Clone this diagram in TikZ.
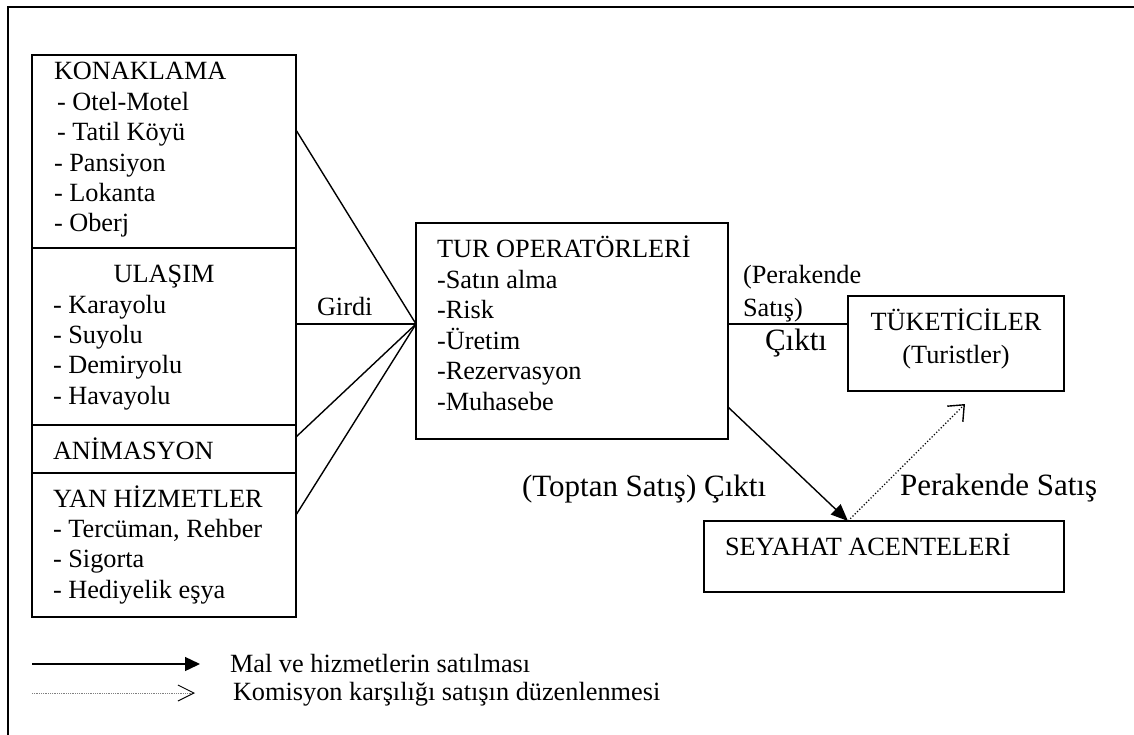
\documentclass[tikz,border=0pt]{standalone}
\usepackage{fontspec}
\setmainfont{Liberation Serif}
\usetikzlibrary{arrows.meta}
% left-aligned block of lines whose baseline is the first line
\newcommand\boxlines[1]{\begin{tabular}[t]{@{}l@{}}#1\end{tabular}}
\begin{document}
\begin{tikzpicture}[x=1pt,y=-1pt,
  box/.style={draw, line width=1.4pt, anchor=north west, inner sep=0pt, outer sep=0pt},
  txt/.style={anchor=base west, inner sep=0pt, outer sep=0pt, font=\fontsize{26.3}{30.4}\selectfont},
  bigtxt/.style={anchor=base west, inner sep=0pt, outer sep=0pt, font=\fontsize{31}{36}\selectfont},
  conn/.style={line width=1.4pt}]
\useasboundingbox (0,0) rectangle (1134,735);

% outer frame
\draw[line width=2pt] (1140,7) -- (8,7) -- (8,740);

% supplier column
\node[box, minimum width=264pt, minimum height=193pt] (konak) at (32,55) {};
\node[box, minimum width=264pt, minimum height=177pt] (ulasim) at (32,248) {};
\node[box, minimum width=264pt, minimum height=48pt] (anim) at (32,425) {};
\node[box, minimum width=264pt, minimum height=144pt] (yan) at (32,473) {};

\node[txt] (konakT) at (54,80) {\boxlines{KONAKLAMA\\ \hspace*{3pt}- Otel-Motel\\ \hspace*{3pt}- Tatil Köyü\\ - Pansiyon\\ - Lokanta\\ - Oberj}};
\node[txt, anchor=base] (ulasimH) at (164,282) {ULAŞIM};
\node[txt] (ulasimT) at (53,313) {\boxlines{- Karayolu\\ - Suyolu\\ - Demiryolu\\ - Havayolu}};
\node[txt] (animT) at (53,459) {ANİMASYON};
\node[txt] (yanT) at (53,507) {\boxlines{YAN HİZMETLER\\ - Tercüman, Rehber\\ - Sigorta\\ - Hediyelik eşya}};

% tour operators
\node[box, minimum width=312pt, minimum height=216pt] (tur) at (416,223) {};
\node[txt] (turT) at (437,258) {\boxlines{TUR OPERATÖRLERİ\\ -Satın alma\\ -Risk\\ -Üretim\\ -Rezervasyon\\ -Muhasebe}};

% consumers
\node[box, minimum width=216pt, minimum height=95pt] (tuk) at (848,296) {};
\node[txt, anchor=base] (tukT) at (956,330) {TÜKETİCİLER};
\node[txt, anchor=base] (tukT2) at (956,363) {(Turistler)};

% travel agencies
\node[box, minimum width=360pt, minimum height=71pt] (sey) at (704,521) {};
\node[txt] (seyT) at (725,555) {SEYAHAT ACENTELERİ};

% inputs
\coordinate (hub) at ([yshift=-101pt]tur.north west);
\draw[conn] ([yshift=-75pt]konak.north east) -- (hub);
\draw[conn] (ulasim.east |- hub) -- (hub);
\draw[conn] ([yshift=-12pt]anim.north east) -- (hub);
\draw[conn] ([yshift=-42pt]yan.north east) -- (hub);
\node[txt] (girdi) at (317,315) {Girdi};

% outputs
\draw[conn] (tur.east |- hub) -- (tuk.west |- hub);
\node[txt] (perak1) at (743,283) {(Perakende};
\node[txt] (perak2) at (743,316) {Satış)};
\node[bigtxt] (cikti1) at (765,350) {Çıktı};

\coordinate (seyIn) at ([xshift=144pt]sey.north west);
\draw[conn, -{Triangle[length=17pt,width=14pt]}] ([yshift=-184pt]tur.north east) -- (seyIn);
\node[bigtxt] (toptan) at (522,496) {(Toptan Satış) Çıktı};

\coordinate (dtip) at (965,404);
\draw[line width=1.2pt, dotted, -{Straight Barb[length=13pt,width=22pt,line width=1.4pt]}] (seyIn) -- (dtip);
\node[bigtxt] (perakSat) at (900,495) {Perakende Satış};

% legend
\coordinate (la) at (32,664);
\coordinate (lb) at (200,664);
\draw[conn, -{Triangle[length=15pt,width=14pt]}] (la) -- (lb);
\node[txt] (legA) at (230,672) {Mal ve hizmetlerin satılması};
\coordinate (lc) at (32,693);
\coordinate (ld) at (195,693);
\draw[line width=0.8pt, densely dotted, gray, -{Straight Barb[length=16pt,width=16pt,line width=1pt,black]}] (lc) -- (ld);
\node[txt] (legB) at (233,700) {Komisyon karşılığı satışın düzenlenmesi};
\end{tikzpicture}
\end{document}
